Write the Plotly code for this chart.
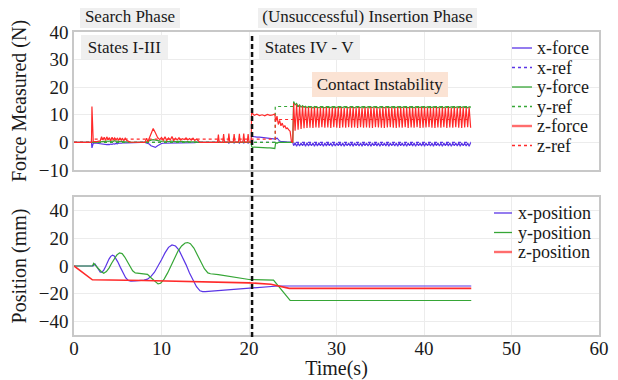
import plotly.graph_objects as go

# ---------------- data ----------------
# Force measurements: search phase (0 - 20.25 s)
t_search = [0.0, 1.0, 2.0, 2.05, 2.12, 2.2, 2.6, 3.0,
            3.15, 3.3, 3.45, 3.6, 3.75, 3.9, 4.05, 4.2, 4.35, 4.5,
            4.65, 4.8, 4.95, 5.1, 5.25, 5.4, 5.55, 5.7, 5.85, 6.0,
            6.4, 7.0, 7.6, 8.1,
            8.3, 8.45, 8.6, 8.8, 9.05, 9.3, 9.55, 9.8,
            10.0, 10.2, 10.4, 10.6, 10.8, 11.0, 11.2, 11.4, 11.6, 11.8,
            12.0, 12.2, 12.4, 12.6, 12.8, 13.0, 13.2, 13.4, 13.6, 13.8,
            14.0, 14.2,
            14.4, 15.3, 16.2,
            16.4, 16.5, 16.6, 17.0, 17.1, 17.2, 17.6, 17.7, 17.8, 18.2,
            18.3, 18.4, 18.8, 18.9, 19.0, 19.3, 19.4, 19.5, 19.8, 19.9,
            20.0, 20.25]
fx_search = [0, 0, 0, -2.0, -0.4, -0.3, -0.3, -0.5,
             -0.6, -0.8, -0.7, -0.9, -0.8, -0.7, -0.8, -0.6, -0.7, -0.5,
             -0.6, -0.4, -0.5, -0.3, -0.4, -0.3, -0.2, -0.3, -0.2, -0.2,
             -0.1, 0.0, 0.0, 0.0,
             -0.2, -0.3, -0.6, -1.2, -1.6, -1.8, -1.2, -0.6,
             -0.4, -0.3, -0.3, -0.2, -0.3, -0.2, -0.2, -0.3, -0.2, -0.1,
             -0.2, -0.2, -0.1, -0.2, -0.1, -0.1, -0.2, -0.1, -0.1, -0.1,
             0.0, 0.0,
             0.0, 0.0, 0.0,
             0.0, -0.2, 0.0, 0.0, -0.2, 0.0, 0.0, -0.3, 0.0, 0.0,
             -0.2, 0.0, 0.0, -0.3, 0.0, 0.0, -0.2, 0.0, 0.0, -0.3,
             0.0, 0.0]
fy_search = [0, 0, 0, 0.0, -0.2, 0.0, 0.0, 0.2,
             0.3, 0.2, 0.4, 0.3, 0.5, 0.4, 0.5, 0.3, 0.5, 0.4,
             0.6, 0.4, 0.5, 0.3, 0.4, 0.3, 0.4, 0.2, 0.3, 0.2,
             0.1, 0.0, 0.0, 0.0,
             0.2, 0.3, 0.6, 0.8, 1.0, 0.8, 0.6, 0.5,
             0.4, 0.5, 0.4, 0.5, 0.3, 0.4, 0.5, 0.3, 0.4, 0.3,
             0.4, 0.3, 0.4, 0.2, 0.3, 0.3, 0.2, 0.3, 0.2, 0.2,
             0.1, 0.1,
             0.0, 0.0, 0.0,
             0.0, 0.1, 0.0, 0.0, 0.1, 0.0, 0.0, 0.1, 0.0, 0.0,
             0.1, 0.0, 0.0, 0.1, 0.0, 0.0, 0.1, 0.0, 0.0, 0.1,
             0.0, 0.0]
fz_search = [0, 0, 0, 13.0, 0.4, 0.3, 0.3, 0.6,
             2.1, 0.9, 1.9, 0.7, 2.0, 1.0, 1.7, 0.6, 1.9, 0.8,
             1.6, 0.9, 1.5, 0.7, 1.7, 0.8, 1.4, 0.6, 1.5, 0.8,
             0.1, 0.0, 0.0, 0.0,
             1.5, 0.2, 1.5, 3.0, 5.0, 3.5, 1.8, 1.0,
             1.8, 0.8, 2.0, 0.7, 1.6, 0.9, 2.1, 0.6, 1.5, 0.9,
             1.7, 0.8, 1.3, 1.0, 1.6, 0.9, 1.4, 0.8, 1.5, 0.7,
             1.2, 0.6,
             0.0, 0.0, 0.0,
             0.0, 2.8, 0.0, 0.0, 3.0, 0.0, 0.1, 3.2, 0.1, 0.1,
             3.0, 0.1, 0.1, 3.1, 0.1, 0.1, 3.2, 0.1, 0.1, 3.0,
             0.1, 0.0]

# Force measurements: first contact (20.3 - 25.0 s)
t_contact = [20.3, 20.4, 20.6, 20.9, 21.2, 21.5, 21.8, 22.1, 22.4, 22.7, 22.95,
             23.05, 23.2, 23.35, 23.5, 23.65, 23.8, 23.95, 24.1, 24.25, 24.4, 24.55, 24.7, 24.85, 25.0]
fx_contact = [2.3, 2.2, 2.0, 1.9, 1.9, 1.8, 1.7, 1.6, 1.6, 1.5, 1.4,
              1.2, 1.6, 0.8, 0.5, 0.4, 0.3, 0.3, 0.2, 0.2, 0.1, 0.1, 0.1, 0.0, 0.0]
fy_contact = [-1.5, -1.8, -1.7, -1.8, -1.9, -1.8, -1.9, -2.0, -2.0, -2.1, -2.2,
              0.0, -0.3, 0.0, 0.1, 0.0, 0.0, 0.0, 0.0, 0.0, 0.0, 0.0, 0.0, 0.0, 0.0]
fz_contact = [12.0, 10.5, 9.8, 10.2, 9.7, 10.0, 9.6, 10.1, 9.8, 10.0, 10.3,
              7.5, 9.5, 6.5, 8.0, 6.0, 7.0, 5.5, 6.0, 5.0, 5.2, 4.5, 4.0, 0.3, 0.0]

# Force measurements: contact instability (25.1 - 45.33 s)
t_osc = [25.10, 25.27, 25.44, 25.61, 25.78, 25.95, 26.12, 26.29, 26.46, 26.63,
         26.80, 26.97, 27.14, 27.31, 27.48, 27.65, 27.82, 27.99, 28.16, 28.33,
         28.50, 28.67, 28.84, 29.01, 29.18, 29.35, 29.52, 29.69, 29.86, 30.03,
         30.20, 30.37, 30.54, 30.71, 30.88, 31.05, 31.22, 31.39, 31.56, 31.73,
         31.90, 32.07, 32.24, 32.41, 32.58, 32.75, 32.92, 33.09, 33.26, 33.43,
         33.60, 33.77, 33.94, 34.11, 34.28, 34.45, 34.62, 34.79, 34.96, 35.13,
         35.30, 35.47, 35.64, 35.81, 35.98, 36.15, 36.32, 36.49, 36.66, 36.83,
         37.00, 37.17, 37.34, 37.51, 37.68, 37.85, 38.02, 38.19, 38.36, 38.53,
         38.70, 38.87, 39.04, 39.21, 39.38, 39.55, 39.72, 39.89, 40.06, 40.23,
         40.40, 40.57, 40.74, 40.91, 41.08, 41.25, 41.42, 41.59, 41.76, 41.93,
         42.10, 42.27, 42.44, 42.61, 42.78, 42.95, 43.12, 43.29, 43.46, 43.63,
         43.80, 43.97, 44.14, 44.31, 44.48, 44.65, 44.82, 44.99, 45.16, 45.33]
fx_osc = [-1.2, -0.1, -1.4, -0.3, -1.3, -0.2, -1.2, -0.2, -1.4, -0.1,
          -1.3, -0.3, -1.2, -0.2, -1.4, -0.2, -1.3, -0.1, -1.2, -0.3,
          -1.4, -0.2, -1.3, -0.1, -1.2, -0.2, -1.4, -0.3, -1.3, -0.2,
          -1.2, -0.1, -1.3, -0.2, -1.4, -0.3, -1.2, -0.2, -1.3, -0.1,
          -1.4, -0.2, -1.2, -0.3, -1.3, -0.2, -1.4, -0.1, -1.2, -0.2,
          -1.3, -0.3, -1.4, -0.2, -1.2, -0.1, -1.3, -0.2, -1.4, -0.3,
          -1.2, -0.2, -1.3, -0.1, -1.4, -0.2, -1.2, -0.3, -1.3, -0.2,
          -1.4, -0.1, -1.2, -0.2, -1.3, -0.3, -1.4, -0.2, -1.2, -0.1,
          -1.3, -0.2, -1.4, -0.3, -1.2, -0.2, -1.3, -0.1, -1.4, -0.2,
          -1.2, -0.3, -1.3, -0.2, -1.4, -0.1, -1.2, -0.2, -1.3, -0.3,
          -1.4, -0.2, -1.2, -0.1, -1.3, -0.2, -1.4, -0.3, -1.2, -0.2,
          -1.3, -0.1, -1.4, -0.2, -1.2, -0.3, -1.3, -0.2, -1.4, -0.1]
fy_osc = [14.8, 13.6, 14.1, 13.0, 13.6, 12.8, 13.3, 12.7, 13.1, 12.6,
          13.0, 12.6, 12.9, 12.5, 13.0, 12.6, 12.8, 12.5, 12.9, 12.6,
          12.8, 12.5, 12.9, 12.6, 12.8, 12.6, 12.9, 12.5, 12.8, 12.6,
          12.9, 12.5, 12.8, 12.6, 12.9, 12.6, 12.8, 12.5, 12.9, 12.6,
          12.8, 12.5, 12.9, 12.6, 12.8, 12.6, 12.9, 12.5, 12.8, 12.6,
          12.9, 12.5, 12.8, 12.6, 12.9, 12.6, 12.8, 12.5, 12.9, 12.6,
          12.8, 12.5, 12.9, 12.6, 12.8, 12.6, 12.9, 12.5, 12.8, 12.6,
          12.9, 12.5, 12.8, 12.6, 12.9, 12.6, 12.8, 12.5, 12.9, 12.6,
          12.8, 12.5, 12.9, 12.6, 12.8, 12.6, 12.9, 12.5, 12.8, 12.6,
          12.9, 12.5, 12.8, 12.6, 12.9, 12.6, 12.8, 12.5, 12.9, 12.6,
          12.8, 12.5, 12.9, 12.6, 12.8, 12.6, 12.9, 12.5, 12.8, 12.6,
          12.9, 12.5, 12.8, 12.6, 12.9, 12.6, 12.8, 12.5, 12.9, 12.6]
fz_osc = [14.2, 4.2, 13.8, 4.6, 13.4, 4.9, 13.1, 5.1, 12.9, 5.2,
          12.8, 5.3, 12.7, 5.2, 12.8, 5.4, 12.6, 5.3, 12.7, 5.5,
          12.6, 5.3, 12.8, 5.4, 12.5, 5.2, 12.7, 5.5, 12.6, 5.3,
          12.8, 5.2, 12.7, 5.4, 12.5, 5.3, 12.6, 5.5, 12.8, 5.3,
          12.7, 5.4, 12.6, 5.2, 12.8, 5.5, 12.5, 5.3, 12.7, 5.4,
          12.6, 5.3, 12.8, 5.2, 12.7, 5.5, 12.6, 5.4, 12.5, 5.3,
          12.7, 5.2, 12.8, 5.4, 12.6, 5.5, 12.7, 5.3, 12.5, 5.2,
          12.8, 5.4, 12.6, 5.3, 12.7, 5.5, 12.6, 5.2, 12.8, 5.4,
          12.5, 5.3, 12.7, 5.5, 12.6, 5.2, 12.8, 5.3, 12.7, 5.4,
          12.6, 5.5, 12.5, 5.3, 12.7, 5.2, 12.8, 5.4, 12.6, 5.3,
          12.7, 5.5, 12.6, 5.2, 12.8, 5.4, 12.5, 5.3, 12.7, 5.5,
          12.6, 5.3, 12.8, 5.2, 12.7, 5.4, 12.6, 5.5, 12.7, 5.3]

# Force references (step profiles)
t_xref = [0.0, 45.33]
x_ref = [0.0, 0.0]
t_yref = [0.0, 23.0, 23.0, 45.33]
y_ref = [0.0, 0.0, 13.0, 13.0]
t_zref = [0.0, 2.0, 2.0, 23.0, 23.0, 45.33]
z_ref = [0.0, 0.0, 1.2, 1.2, 8.3, 8.3]

# Positions
t_xpos = [0, 2.2, 2.4, 2.6, 2.8, 3.0, 3.2, 3.4, 3.6, 3.8, 4.0, 4.2, 4.4, 4.6, 4.8, 5.0,
          5.3, 5.6, 5.9, 6.2, 6.5, 7.0, 7.5, 8.0, 8.4, 8.8, 9.2, 9.6, 10.0, 10.4,
          10.8, 11.2, 11.6, 12.0, 12.4, 12.8, 13.2, 13.6, 14.0, 14.4, 14.7, 15.0,
          17.0, 20.0, 22.0, 23.3, 45.4]
x_pos = [0, 0, 1.5, -0.5, -3, -4.5, -4.5, -3, -0.5, 2.5, 5, 7, 7.8, 7.2, 5.5, 3,
         -1, -5, -8.5, -10.5, -11, -10.8, -10.6, -10.2, -9.5, -7.5, -4.5, -0.5, 4.5, 9.5,
         13.5, 15.3, 14.5, 11.5, 6.5, 1, -5, -10.5, -15, -18, -18.6, -18.5,
         -17.6, -16.3, -15.2, -14.5, -14.5]
t_ypos = [0, 2.1, 2.25, 2.5, 2.8, 3.1, 3.4, 3.7, 4.0, 4.3, 4.6, 4.9, 5.2, 5.5, 5.8,
          6.1, 6.4, 6.7, 7.0, 7.5, 8.0, 8.4, 8.8, 9.2, 9.6, 9.9, 10.3, 10.7, 11.1,
          11.5, 11.9, 12.3, 12.7, 13.0, 13.3, 13.7, 14.1, 14.5, 14.9, 15.3, 15.6,
          16.5, 20.0, 22.8, 24.7, 45.4]
y_pos = [0, 0, 2, 0.5, -2, -4, -5.2, -4, -1.5, 2, 5.5, 8, 9.5, 9, 6.5,
         3, -0.5, -3.5, -5, -5.3, -5.5, -6, -8.5, -11, -13, -12.5, -9.5, -5, 0.5,
         6, 11, 14.5, 16.7, 17, 16.2, 13, 8, 2.5, -2, -5, -5.6,
         -6.2, -9.8, -10.2, -25, -25]
t_zpos = [0, 2.1, 8.0, 12.0, 16.0, 20.0, 22.5, 24.6, 45.4]
z_pos = [0, -10, -10.5, -11, -11.5, -12.2, -13.2, -16.2, -16.2]

force_ticks = [-10, 0, 10, 20, 30, 40]
pos_ticks = [-40, -20, 0, 20, 40]
time_ticks = [0, 10, 20, 30, 40, 50, 60]
phase_boundary = 20.35

# ---------------- build ----------------
t_force = t_search + t_contact + t_osc
fx = fx_search + fx_contact + fx_osc
fy = fy_search + fy_contact + fy_osc
fz = fz_search + fz_contact + fz_osc

BLUE = "#5a35e6"
GREEN = "#36a636"
RED = "#ff2a2a"
FONT = "Liberation Serif"
GRID = "#ececec"
BORDER = "#c8c8c8"
TXT = "#1a1a1a"

# the page body adds an 8px offset; target positions are in window pixels
OFF = 8
FW, FH = 618 - OFF, 380 - OFF
L, R, T, B = 74, 599, 32, 335          # plot area in window pixels
W, H = R - L, B - T
def px(x):
    return (x - L) / W
def py(y):
    return (B - y) / H

fig = go.Figure()

series = []
def add(x, y, name, color, dash="solid", axis=1, width=1.2):
    fig.add_trace(go.Scatter(
        x=x, y=y, name=name, mode="lines", showlegend=False,
        line=dict(color=color, width=width, dash=dash),
        xaxis="x" if axis == 1 else "x2", yaxis="y" if axis == 1 else "y2"))
    series.append((name, color, dash, axis, width))

add(t_force, fx, "x-force", BLUE)
add(t_xref, x_ref, "x-ref", BLUE, dash="dot")
add(t_force, fy, "y-force", GREEN)
add(t_yref, y_ref, "y-ref", GREEN, dash="dot")
add(t_force, fz, "z-force", RED)
add(t_zref, z_ref, "z-ref", RED, dash="dot")
add(t_xpos, x_pos, "x-position", BLUE, axis=2)
add(t_ypos, y_pos, "y-position", GREEN, axis=2)
add(t_zpos, z_pos, "z-position", RED, axis=2, width=1.6)

axis_common = dict(showgrid=True, gridcolor=GRID, gridwidth=1, zeroline=False,
                   showline=True, linecolor=BORDER, linewidth=1.5, mirror=True,
                   ticks="", automargin=False,
                   tickfont=dict(family=FONT, size=19, color=TXT))
title_font = dict(family=FONT, size=20, color=TXT)

top_lo, bot_hi = py(170), py(197)

fig.update_layout(
    width=FW, height=FH,
    margin=dict(l=L - OFF, r=618 - R, t=T - OFF, b=380 - B),
    paper_bgcolor="white", plot_bgcolor="white",
    font=dict(family=FONT, color=TXT),
    showlegend=False,
    xaxis=dict(domain=[0, 1], range=[0, 60], tickvals=time_ticks, showticklabels=False,
               anchor="y", **axis_common),
    yaxis=dict(domain=[top_lo, 1], range=[-10, 40], tickvals=force_ticks, anchor="x",
               title=dict(text="Force Measured (N)", font=title_font, standoff=7),
               **axis_common),
    xaxis2=dict(domain=[0, 1], range=[0, 60], tickvals=time_ticks, anchor="y2",
                ticklabelstandoff=-5,
                title=dict(text="Time(s)", font=title_font, standoff=9),
                **axis_common),
    yaxis2=dict(domain=[0, bot_hi], range=[-50, 50], tickvals=pos_ticks, anchor="x2",
                title=dict(text="Position (mm)", font=title_font, standoff=7),
                **axis_common),
)

# phase boundary
fig.add_shape(type="line", xref="x", yref="paper", x0=phase_boundary, x1=phase_boundary,
              y0=py(337), y1=py(36), line=dict(color="#111111", width=2.5, dash="5px,3px"))

# legends (drawn as text + line samples)
def legend_block(items, x0, x1, xt, y_first, step):
    for i, (name, color, dash, axis, width) in enumerate(items):
        yy = y_first + i * step
        lw = 2.4 if name.startswith("z") and dash == "solid" else 1.3
        col = "rgba(255,60,60,0.75)" if lw > 2 else color
        fig.add_shape(type="line", xref="paper", yref="paper",
                      x0=px(x0), x1=px(x1), y0=py(yy), y1=py(yy),
                      line=dict(color=col, width=lw, dash=dash))
        fig.add_annotation(text=name, xref="paper", yref="paper", x=px(xt), y=py(yy),
                           xanchor="left", yanchor="middle", showarrow=False,
                           font=dict(family=FONT, size=18, color=TXT))

legend_block([s for s in series if s[3] == 1], 512, 532, 535, 48, 19.5)
legend_block([s for s in series if s[3] == 2], 494, 512, 516, 213, 19.5)

def box(text, cx, cy, w, h, bg):
    fig.add_annotation(text=text, xref="paper", yref="paper",
                       x=px(cx), y=py(cy),
                       xanchor="center", yanchor="middle", showarrow=False,
                       width=w, height=h, bgcolor=bg, borderpad=0, borderwidth=0,
                       font=dict(family=FONT, size=17, color=TXT))

box("Search Phase", 130, 16, 100, 24, "#efefef")
box("(Unsuccessful) Insertion Phase", 367.5, 16, 219, 24, "#efefef")
box("States I-III", 124.5, 47, 87, 24, "#efefef")
box("States IV - V", 309.5, 47, 101, 24, "#efefef")
box("Contact Instability", 380, 84.5, 136, 25, "#fbe3d4")

fig.write_html("out.html")
